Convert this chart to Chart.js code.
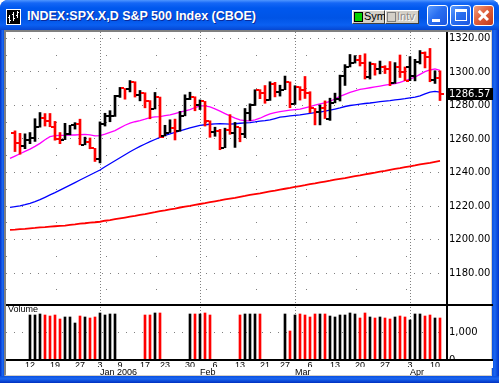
<!DOCTYPE html>
<html>
<head>
<meta charset="utf-8">
<script src="https://cdn.jsdelivr.net/npm/chart.js@4.4.1/dist/chart.umd.min.js"></script>
<style>
html,body{margin:0;padding:0;background:#fff;overflow:hidden;width:499px;height:383px;}
.a{position:absolute;box-sizing:border-box;}
#frame{left:0;top:0;width:499px;height:383px;background:#0b4fe3;border-radius:8px 8px 0 0;}
#title{left:0;top:0;width:499px;height:30px;border-radius:8px 8px 0 0;background:linear-gradient(180deg,#4f96ff 0px,#1567f6 3px,#0058ee 8px,#0054e6 18px,#0a60f2 25px,#0647d2 30px);}
#lb{left:0;top:30px;width:4px;height:353px;background:linear-gradient(90deg,#0030c8,#1a66f0 60%,#0a50e0);}
#rb{left:492px;top:30px;width:7px;height:353px;background:linear-gradient(90deg,#0a50e0,#1a66f0 40%,#0036cc);}
#bb{left:0;top:376px;width:499px;height:7px;background:linear-gradient(180deg,#0a50e0,#1a66f0 40%,#0030c0);}
#client{left:4px;top:30px;width:488px;height:346px;background:#fff;border-left:2px solid #808080;border-top:2px solid #808080;border-right:1px solid #d4d0c8;border-bottom:1px solid #d4d0c8;}
#ttl{left:27px;top:9px;font:bold 12.5px "Liberation Sans",Arial,sans-serif;color:#fff;text-shadow:1px 1px 0 #0a2a9a;white-space:nowrap;line-height:15px;}
.btn{top:10px;height:14px;background:#d4d0c8;border:1px solid;border-color:#fff #404040 #404040 #fff;}
.box{top:1px;left:1px;width:9px;height:10px;border:1px solid #000;}
.btxt{top:-1px;left:11px;font:11px "Liberation Sans",Arial,sans-serif;line-height:13px;white-space:nowrap;}
.xp{top:5px;width:21px;height:21px;border:1px solid #fff;border-radius:3px;}
.blue{background:linear-gradient(135deg,#5c9cff 0%,#2a6ff0 45%,#1c56e0 100%);}
.red{background:linear-gradient(135deg,#f0a080 0%,#e0603c 45%,#c2381a 100%);}
#vlab{left:8px;top:304px;font:9px "Liberation Sans",Arial,sans-serif;color:#000;line-height:11px;}
</style>
</head>
<body>
<div id="frame" class="a"></div>
<div id="title" class="a"></div>
<div id="lb" class="a"></div>
<div id="rb" class="a"></div>
<div id="bb" class="a"></div>
<div id="client" class="a"></div>
<svg class="a" style="left:6px;top:9px" width="15" height="16" viewBox="0 0 15 16">
  <rect x="0.5" y="0.5" width="14" height="15" fill="#000" stroke="#fff"/>
  <rect x="3" y="6" width="1" height="8" fill="#fff"/><rect x="2" y="8" width="1" height="1" fill="#fff"/><rect x="4" y="11" width="1" height="1" fill="#fff"/>
  <rect x="7" y="3" width="1" height="9" fill="#fff"/><rect x="6" y="5" width="1" height="1" fill="#fff"/><rect x="8" y="9" width="1" height="1" fill="#fff"/>
  <rect x="11" y="2" width="1" height="7" fill="#fff"/><rect x="10" y="6" width="1" height="1" fill="#fff"/><rect x="12" y="3" width="1" height="1" fill="#fff"/>
</svg>
<div id="ttl" class="a">INDEX:SPX.X,D S&amp;P 500 Index (CBOE)</div>
<div class="a btn" style="left:352px;width:33px;"><div class="a box" style="background:#00d000;"></div><div class="a btxt" style="color:#000;">Sym</div></div>
<div class="a btn" style="left:385px;width:34px;"><div class="a box" style="background:#d4d0c8;border-color:#808080;"></div><div class="a btxt" style="color:#8a8a8a;text-shadow:1px 1px 0 #fff;">Intv</div></div>
<div class="a xp blue" style="left:427px;"><div class="a" style="left:4px;top:13px;width:8px;height:3px;background:#fff;"></div></div>
<div class="a xp blue" style="left:450px;"><div class="a" style="left:4px;top:3px;width:12px;height:12px;border:1px solid #fff;border-top-width:3px;"></div></div>
<div class="a xp red" style="left:473px;"><div class="a" style="left:3px;top:8px;width:13px;height:2.5px;background:#fff;transform:rotate(45deg);"></div><div class="a" style="left:3px;top:8px;width:13px;height:2.5px;background:#fff;transform:rotate(-45deg);"></div></div>
<canvas id="price" class="a" style="left:6px;top:32px;" width="487" height="271"></canvas>
<canvas id="vol" class="a" style="left:6px;top:303px;" width="487" height="73"></canvas>
<div id="vlab" class="a">Volume</div>
<script>
const dates=[
'2005-12-06','2005-12-07','2005-12-08','2005-12-09','2005-12-12','2005-12-13','2005-12-14','2005-12-15','2005-12-16','2005-12-19',
'2005-12-20','2005-12-21','2005-12-22','2005-12-23','2005-12-27','2005-12-28','2005-12-29','2005-12-30','2006-01-03','2006-01-04',
'2006-01-05','2006-01-06','2006-01-09','2006-01-10','2006-01-11','2006-01-12','2006-01-13','2006-01-17','2006-01-18','2006-01-19',
'2006-01-20','2006-01-23','2006-01-24','2006-01-25','2006-01-26','2006-01-27','2006-01-30','2006-01-31','2006-02-01','2006-02-02',
'2006-02-03','2006-02-06','2006-02-07','2006-02-08','2006-02-09','2006-02-10','2006-02-13','2006-02-14','2006-02-15','2006-02-16',
'2006-02-17','2006-02-21','2006-02-22','2006-02-23','2006-02-24','2006-02-27','2006-02-28','2006-03-01','2006-03-02','2006-03-03',
'2006-03-06','2006-03-07','2006-03-08','2006-03-09','2006-03-10','2006-03-13','2006-03-14','2006-03-15','2006-03-16','2006-03-17',
'2006-03-20','2006-03-21','2006-03-22','2006-03-23','2006-03-24','2006-03-27','2006-03-28','2006-03-29','2006-03-30','2006-03-31',
'2006-04-03','2006-04-04','2006-04-05','2006-04-06','2006-04-07','2006-04-10','2006-04-11'];
const opens=[
null,1263.70,1257.37,1255.84,1259.37,1260.43,1267.43,1272.74,1270.94,1267.32,
1259.92,1259.62,1262.79,1268.12,1268.66,1256.54,1258.17,1254.42,1248.29,1268.80,
1273.46,1273.48,1285.45,1290.15,1289.72,1294.18,1286.06,1287.61,1282.93,1277.93,
1284.96,1261.82,1263.82,1266.86,1264.68,1273.83,1283.72,1285.20,1280.08,1282.46,
1270.84,1264.03,1265.02,1254.78,1265.65,1263.82,1266.99,1262.86,1275.53,1280.00,
1289.38,1287.24,1283.03,1292.67,1287.79,1289.43,1294.12,1280.66,1291.24,1289.14,
1287.23,1278.26,1275.88,1278.47,1272.23,1281.58,1284.13,1297.48,1303.02,1305.33,
1307.25,1305.08,1297.23,1305.04,1301.67,1302.95,1301.61,1293.23,1302.89,1300.25,
1302.88,1297.81,1305.93,1311.56,1309.04,1295.51,1296.60];
const highs=[
null,1264.85,1263.36,1263.08,1263.86,1272.11,1275.80,1275.17,1275.24,1270.51,
1263.86,1269.37,1268.19,1269.76,1271.83,1261.10,1260.61,1254.42,1270.22,1275.37,
1276.91,1286.09,1290.78,1290.15,1294.90,1294.18,1288.96,1287.61,1282.93,1287.79,
1285.04,1268.19,1271.47,1271.87,1276.44,1286.38,1287.94,1285.20,1283.33,1282.46,
1270.87,1267.04,1265.78,1266.47,1274.56,1269.89,1266.99,1278.21,1281.00,1289.39,
1289.47,1291.92,1294.17,1293.84,1292.11,1297.57,1294.12,1291.80,1291.24,1297.33,
1288.23,1278.26,1280.33,1282.74,1284.37,1287.37,1298.14,1304.40,1310.45,1309.79,
1310.00,1310.88,1305.97,1305.04,1306.53,1303.74,1306.24,1305.60,1310.15,1303.00,
1309.19,1307.55,1312.81,1311.99,1314.07,1300.74,1300.71];
const lows=[
null,1252.50,1250.91,1254.24,1257.21,1258.56,1267.07,1267.74,1267.32,1259.28,
1257.21,1259.62,1262.50,1265.92,1256.54,1256.54,1254.18,1246.59,1245.74,1267.74,
1270.30,1273.48,1284.82,1283.76,1288.12,1285.04,1282.78,1278.61,1272.08,1277.93,
1260.92,1261.82,1263.82,1259.42,1264.68,1273.83,1283.51,1276.85,1277.57,1267.72,
1261.02,1261.62,1253.61,1254.78,1262.80,1254.98,1258.34,1260.80,1271.06,1280.00,
1284.07,1281.33,1283.03,1285.14,1285.62,1289.43,1278.66,1280.66,1283.22,1284.20,
1275.67,1268.42,1268.42,1272.23,1271.11,1281.58,1282.67,1291.97,1303.02,1305.32,
1303.59,1295.82,1295.81,1298.11,1298.89,1299.09,1291.84,1293.23,1296.72,1294.83,
1294.83,1294.71,1304.82,1302.44,1294.18,1293.17,1282.96];
const closes=[
1263.70,1257.37,1255.84,1259.37,1260.43,1267.43,1272.74,1270.94,1267.32,1259.92,
1259.62,1262.79,1268.12,1268.66,1256.54,1258.17,1254.42,1248.29,1268.80,1273.46,
1273.48,1285.45,1290.15,1289.69,1294.18,1286.06,1287.61,1282.93,1277.93,1285.04,
1261.49,1263.82,1266.86,1264.68,1273.83,1283.72,1285.19,1280.08,1282.46,1270.84,
1264.03,1265.02,1254.78,1265.65,1263.78,1266.99,1262.86,1275.53,1280.00,1289.38,
1287.24,1283.03,1292.67,1287.79,1289.43,1294.12,1280.66,1291.24,1289.14,1287.23,
1278.26,1275.88,1278.47,1272.23,1281.42,1284.13,1297.48,1303.02,1305.33,1307.25,
1305.08,1297.23,1305.04,1301.67,1302.95,1301.61,1293.23,1302.89,1300.25,1294.83,
1297.81,1305.93,1311.56,1309.04,1295.50,1296.62,1286.57];
const ma20=[
1248.4,1249.8,1251.2,1252.6,1254.0,1255.6,1257.4,1259.6,1261.4,1262.0,
1262.2,1262.2,1262.4,1262.4,1262.6,1262.8,1262.4,1261.9,1262.0,1262.9,
1264.0,1265.0,1266.6,1268.2,1269.5,1270.3,1271.0,1271.8,1272.8,1273.2,
1273.4,1273.9,1274.4,1275.2,1276.0,1276.8,1277.6,1278.8,1279.8,1279.8,
1279.2,1278.0,1276.6,1275.2,1273.8,1272.5,1271.4,1271.0,1270.8,1271.4,
1272.4,1273.8,1275.0,1275.8,1276.4,1276.8,1277.2,1277.5,1277.8,1278.6,
1279.4,1280.2,1281.0,1281.6,1282.4,1284.0,1285.4,1286.6,1287.8,1288.8,
1289.6,1290.1,1290.6,1291.1,1291.6,1292.1,1292.6,1293.1,1293.8,1294.8,
1295.8,1297.0,1298.6,1300.2,1301.2,1301.8,1301.0];
const ma50=[
1219.2,1219.6,1220.1,1220.8,1221.6,1222.6,1223.8,1225.2,1226.6,1228.0,
1229.5,1231.0,1232.5,1234.0,1235.5,1237.0,1238.5,1240.0,1241.5,1243.4,
1245.2,1247.0,1248.8,1250.6,1252.4,1254.0,1255.6,1257.0,1258.4,1259.7,
1261.0,1262.1,1263.1,1264.0,1264.9,1265.8,1266.6,1267.4,1268.1,1268.5,
1268.8,1269.0,1269.1,1269.0,1268.9,1269.1,1269.4,1269.6,1269.8,1270.2,
1270.7,1271.0,1271.4,1272.2,1273.0,1273.4,1273.8,1274.1,1274.4,1274.9,
1275.3,1275.7,1276.1,1276.6,1277.2,1277.9,1278.6,1279.4,1280.0,1280.4,
1280.8,1281.2,1281.5,1281.9,1282.3,1282.6,1282.9,1283.3,1283.7,1284.1,
1284.6,1285.0,1285.8,1287.0,1288.0,1288.4,1288.0];
const ma200=[
1205.7,1205.9,1206.2,1206.4,1206.7,1206.9,1207.2,1207.4,1207.7,1207.9,
1208.1,1208.3,1208.7,1209.0,1209.5,1209.7,1210.1,1210.3,1210.6,1211.2,
1211.6,1212.1,1212.6,1213.1,1213.6,1214.1,1214.7,1215.2,1215.8,1216.3,
1216.9,1217.4,1218.0,1218.5,1219.1,1219.6,1220.1,1220.7,1221.2,1221.7,
1222.3,1222.8,1223.3,1223.9,1224.4,1224.9,1225.5,1226.0,1226.6,1227.1,
1227.6,1228.2,1228.7,1229.2,1229.8,1230.3,1230.8,1231.4,1231.9,1232.4,
1233.0,1233.5,1234.1,1234.6,1235.1,1235.7,1236.2,1236.7,1237.3,1237.8,
1238.3,1238.9,1239.4,1239.9,1240.5,1241.0,1241.6,1242.1,1242.6,1243.2,
1243.7,1244.2,1244.8,1245.3,1245.8,1246.4,1246.9];
const volume=[
null,null,null,null,1607,1607,1643,1607,1571,1607,
1464,1536,1536,1321,1571,1536,1500,1536,1679,1607,
1643,1643,null,null,null,null,null,1607,1607,1679,
1679,null,null,null,null,null,1643,1643,1643,1679,
1607,null,null,null,null,null,1607,1643,1643,1643,
1643,null,null,null,null,1643,1036,1607,1643,1607,
1536,1643,1643,1643,1571,1536,1607,1607,1679,1643,
1500,1679,1536,1500,1536,1500,1464,1536,1571,1536,
1429,1643,1643,1571,1607,1500,1500];
const priceTicks=[1170,1180,1190,1200,1210,1220,1230,1240,1250,1260,1270,1280,1290,1300,1310,1320];
const volumeTicks=[0,1000];
const dayTickDates=['2005-12-12','2005-12-19','2005-12-27','2006-01-03','2006-01-09','2006-01-17','2006-01-23','2006-01-30','2006-02-06','2006-02-13','2006-02-21','2006-02-27','2006-03-06','2006-03-13','2006-03-20','2006-03-27','2006-04-03','2006-04-10'];
const dayTickLabels=['12','19','27','3','9','17','23','30','6','13','21','27','6','13','20','27','3','10'];
const monthTickDates=['2006-01-03','2006-02-01','2006-03-01','2006-04-03'];
const monthTickLabels=['Jan 2006','Feb','Mar','Apr'];

const UP='#000000', DN='#ff0000', GRID='#808080';
const X_MIN=-0.8, X_MAX=87.4;
const dirColor=i=>closes[i]>=closes[i-1]?UP:DN;
const pts=arr=>arr.map((v,i)=>({x:i,y:v}));
const axisFont={family:'DejaVu Sans',size:10};
const dateFont={family:'Liberation Sans',size:9};
Chart.defaults.font.family='DejaVu Sans';
const noPad=s=>{s.paddingLeft=0;s.paddingRight=0;s.paddingTop=0;s.paddingBottom=0;};

const monthLines={id:'monthLines',beforeDatasetsDraw(chart){
  const {ctx,scales:{x},chartArea:a}=chart;
  ctx.save();
  ctx.strokeStyle=GRID;ctx.lineWidth=1;ctx.setLineDash([1,2]);
  monthTickDates.forEach(d=>{
    const px=Math.round(x.getPixelForValue(dates.indexOf(d)))+0.5;
    ctx.beginPath();ctx.moveTo(px,a.top);ctx.lineTo(px,a.bottom);ctx.stroke();
  });
  ctx.restore();
}};
const ohlcTicks={id:'ohlcTicks',afterDatasetsDraw(chart){
  const {ctx,scales:{x,y},chartArea:a}=chart;
  ctx.save();ctx.beginPath();ctx.rect(a.left,a.top,a.right-a.left,a.bottom-a.top);ctx.clip();
  for(let i=0;i<dates.length;i++){
    if(highs[i]==null)continue;
    const px=Math.round(x.getPixelForValue(i));
    ctx.fillStyle=dirColor(i);
    ctx.fillRect(px-4,Math.round(y.getPixelForValue(opens[i]))-1,3,2);
    ctx.fillRect(px+1,Math.round(y.getPixelForValue(closes[i]))-1,3,2);
  }
  ctx.restore();
}};
const lastBadge={id:'lastBadge',afterDraw(chart){
  const {ctx,scales:{y},chartArea:a}=chart;
  const last=closes[closes.length-1];
  const py=Math.round(y.getPixelForValue(last));
  ctx.save();
  ctx.fillStyle='#000';ctx.fillRect(a.right+1,py-6,chart.width-a.right-1,12);
  ctx.fillStyle='#fff';ctx.font='10px "DejaVu Sans"';ctx.textBaseline='middle';ctx.textAlign='left';
  ctx.fillText(last.toFixed(2),a.right+2,py+0.5);
  ctx.restore();
}};
const panelLines={id:'panelLines',afterDraw(chart){
  const {ctx,chartArea:a}=chart;
  ctx.save();
  ctx.fillStyle='#fff';ctx.fillRect(a.right+2,a.bottom+1,chart.width-a.right-2,7);
  ctx.fillStyle='#000';
  ctx.fillRect(0,Math.round(a.top),chart.width,2);
  ctx.fillRect(0,Math.round(a.bottom)-1,chart.width,2);
  ctx.restore();
}};

new Chart(document.getElementById('price'),{
  type:'bar',
  data:{datasets:[
    {type:'bar',order:0,data:highs.map((h,i)=>h==null?null:{x:i,y:[lows[i],highs[i]]}).filter(Boolean),
     backgroundColor:c=>dirColor(c.raw.x),barThickness:2,borderWidth:0},
    {type:'line',order:1,data:pts(ma20),borderColor:'#ff00ff',borderWidth:1.3,pointRadius:0,tension:0},
    {type:'line',order:2,data:pts(ma50),borderColor:'#0000ff',borderWidth:1.3,pointRadius:0,tension:0},
    {type:'line',order:3,data:pts(ma200),borderColor:'#ff0000',borderWidth:1.8,pointRadius:0,tension:0}
  ]},
  options:{responsive:false,animation:false,devicePixelRatio:1,layout:{padding:0},
    plugins:{legend:{display:false},tooltip:{enabled:false}},
    scales:{
      x:{type:'linear',offset:false,min:X_MIN,max:X_MAX,
        afterBuildTicks:s=>{s.ticks=monthTickDates.map(d=>({value:dates.indexOf(d)}));},
        afterFit:s=>{s.height=0;noPad(s);},
        ticks:{display:false},grid:{display:false,drawTicks:false},border:{display:false}},
      y:{position:'right',min:1162.09,max:1323.88,grace:0,
        afterBuildTicks:s=>{s.ticks=priceTicks.map(v=>({value:v}));},
        afterFit:s=>{s.width=46;noPad(s);},
        ticks:{autoSkip:false,padding:2,color:'#000',font:axisFont,callback:v=>v%20===0?v.toFixed(2):''},
        grid:{color:GRID,drawTicks:false,lineWidth:1},
        border:{display:true,color:'#000',width:2,dash:c=>c.tick?(c.tick.value%20===0?[1,7]:[1,49]):[]}}
    }
  },
  plugins:[monthLines,ohlcTicks,lastBadge]
});

new Chart(document.getElementById('vol'),{
  type:'bar',
  data:{datasets:[
    {data:volume.map((v,i)=>v==null?null:{x:i,y:v}).filter(Boolean),backgroundColor:c=>dirColor(c.raw.x),barThickness:2,borderWidth:0}
  ]},
  options:{responsive:false,animation:false,devicePixelRatio:1,layout:{padding:{top:1}},
    plugins:{legend:{display:false},tooltip:{enabled:false}},
    scales:{
      x:{type:'linear',offset:false,position:'bottom',weight:0,min:X_MIN,max:X_MAX,
        afterBuildTicks:s=>{s.ticks=dayTickDates.map(d=>({value:dates.indexOf(d)}));},
        afterFit:s=>{s.height=7;noPad(s);},
        ticks:{autoSkip:false,maxRotation:0,padding:0,color:'#000',font:dateFont,callback:(v,i)=>dayTickLabels[i]},
        grid:{display:false,drawTicks:false},border:{display:false}},
      m:{type:'linear',axis:'x',offset:false,position:'bottom',weight:1,min:X_MIN,max:X_MAX,
        afterBuildTicks:s=>{s.ticks=monthTickDates.map(d=>({value:dates.indexOf(d)}));},
        afterFit:s=>{s.height=9;noPad(s);},
        ticks:{autoSkip:false,maxRotation:0,padding:0,align:'start',color:'#000',font:dateFont,callback:(v,i)=>monthTickLabels[i]},
        grid:{display:false,drawTicks:false},border:{display:false}},
      y:{position:'right',min:0,max:2000,grace:0,
        afterBuildTicks:s=>{s.ticks=volumeTicks.map(v=>({value:v}));},
        afterFit:s=>{s.width=46;noPad(s);},
        ticks:{autoSkip:false,padding:2,color:'#000',font:axisFont,callback:v=>v.toLocaleString('en-US')},
        grid:{color:c=>c.tick&&c.tick.value===0?'rgba(0,0,0,0)':GRID,drawTicks:false,lineWidth:1},
        border:{display:true,color:'#000',width:2,dash:c=>c.tick?[1,7]:[]}}
    }
  },
  plugins:[monthLines,panelLines]
});
</script>
</body>
</html>
